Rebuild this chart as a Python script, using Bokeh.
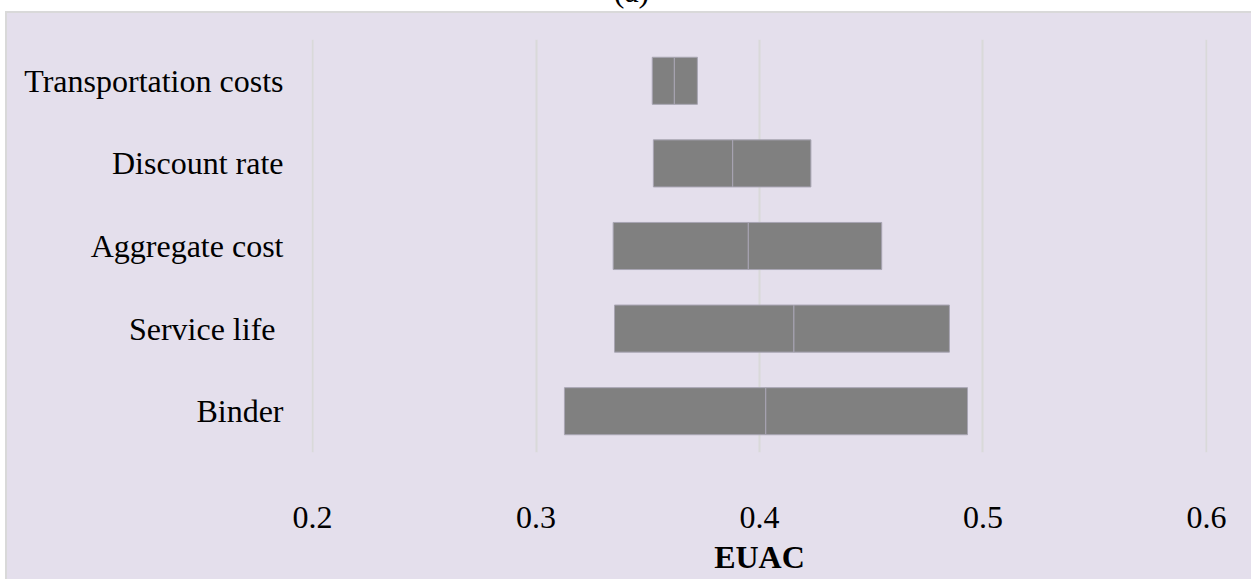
from bokeh.plotting import figure
from bokeh.models import FactorRange, Range1d, ColumnDataSource, FixedTicker, Div
from bokeh.layouts import column
from bokeh.embed import file_html
from bokeh.resources import INLINE

# Data (bottom to top)
categories = ["Binder", "Service life\u00a0", "Aggregate cost", "Discount rate", "Transportation costs"]
low_values = [0.3127, 0.3351, 0.3345, 0.3525, 0.3520]
base_values = [0.4028, 0.4154, 0.3950, 0.3880, 0.3619]
high_values = [0.4931, 0.4850, 0.4547, 0.4230, 0.3722]
x_ticks = [0.2, 0.3, 0.4, 0.5, 0.6]
x_min, x_max = 0.1995, 0.6005

BG = "#E4DFEC"
FONT = "Liberation Serif"

src = ColumnDataSource(dict(cat=categories, low=low_values, base=base_values, high=high_values))

W, H = 1246, 568
p = figure(width=W, height=H, y_range=FactorRange(*categories), x_range=Range1d(x_min, x_max),
           output_backend="svg", toolbar_location=None,
           min_border_left=304, min_border_right=46, min_border_top=26, min_border_bottom=129)
p.styles = {"margin-left": "5px", "border-left": "2px solid #D9D9D9", "border-top": "2px solid #D9D9D9",
            "background-color": BG}
p.background_fill_alpha = 0
p.border_fill_color = BG
p.outline_line_color = None

p.hbar(y="cat", left="low", right="base", height=0.57, source=src,
       fill_color="#808080", line_color="#A8A5B3", line_width=1)
p.hbar(y="cat", left="base", right="high", height=0.57, source=src,
       fill_color="#808080", line_color="#A8A5B3", line_width=1)

p.xgrid.ticker = FixedTicker(ticks=x_ticks)
p.xgrid.grid_line_color = "#D9D9D9"
p.xgrid.grid_line_width = 2
p.ygrid.grid_line_color = None

p.xaxis.ticker = FixedTicker(ticks=x_ticks)
p.xaxis.axis_line_color = None
p.xaxis.major_tick_line_color = None
p.xaxis.minor_tick_line_color = None
p.xaxis.major_tick_out = 0
p.xaxis.major_label_standoff = 54
p.xaxis.major_label_text_font = FONT
p.xaxis.major_label_text_font_size = "32px"
p.xaxis.major_label_text_color = "#000000"
p.xaxis.axis_label = "EUAC"
p.xaxis.axis_label_text_font = FONT
p.xaxis.axis_label_text_font_size = "32px"
p.xaxis.axis_label_text_font_style = "bold"
p.xaxis.axis_label_text_color = "#000000"
p.xaxis.axis_label_standoff = 8

p.yaxis.axis_line_color = None
p.yaxis.major_tick_line_color = None
p.yaxis.major_tick_out = 0
p.yaxis.major_label_standoff = 28
p.yaxis.major_label_text_font = FONT
p.yaxis.major_label_text_font_size = "32px"
p.yaxis.major_label_text_color = "#000000"

title = Div(text='<div style="position:relative;top:-36px;text-align:center;width:1253px;'
                 'font-family:\'Liberation Serif\';font-size:32px;color:#000;">(a)</div>',
            width=1253, height=1, styles={"overflow": "visible"})

layout = column(title, p, spacing=0)
open("out.html", "w").write(file_html(layout, INLINE))
